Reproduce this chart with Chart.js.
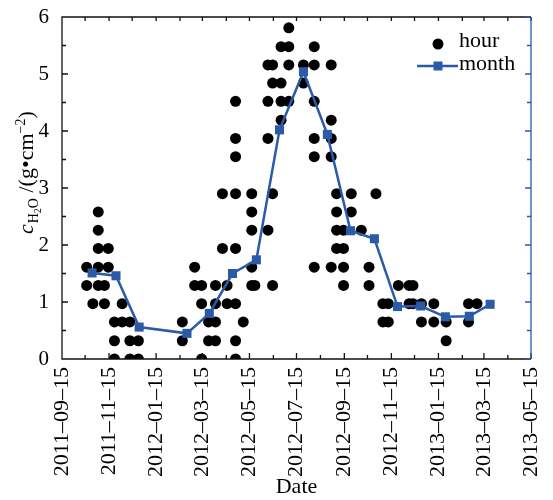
<!DOCTYPE html>
<html>
<head>
<meta charset="utf-8">
<script src="https://cdn.jsdelivr.net/npm/chart.js@4.4.1/dist/chart.umd.min.js"></script>
<style>
html, body { margin: 0; padding: 0; background: #fff; }
</style>
</head>
<body>
<canvas id="chart" width="553" height="500"></canvas>
<script>
// axis range and tick labels
var startDate = '2011-09-15';
var endDate = '2013-05-15';
var xTickLabels = ['2011-09-15', '2011-11-15', '2012-01-15', '2012-03-15', '2012-05-15', '2012-07-15',
                   '2012-09-15', '2012-11-15', '2013-01-15', '2013-03-15', '2013-05-15'];
var yTicks = [0, 1, 2, 3, 4, 5, 6];

// hourly values, grouped by observation day
var hourDates = ['2011-10-17', '2011-10-25', '2011-11-01', '2011-11-09', '2011-11-14', '2011-11-22',
                 '2011-12-02', '2011-12-12', '2011-12-23', '2012-02-18', '2012-03-05', '2012-03-14',
                 '2012-03-23', '2012-04-01', '2012-04-10', '2012-04-16', '2012-04-27', '2012-05-07',
                 '2012-05-18', '2012-05-22', '2012-06-08', '2012-06-14', '2012-06-25', '2012-07-05',
                 '2012-07-24', '2012-08-07', '2012-08-29', '2012-09-05', '2012-09-14', '2012-09-24',
                 '2012-10-07', '2012-10-17', '2012-10-26', '2012-11-04', '2012-11-11', '2012-11-24',
                 '2012-12-08', '2012-12-13', '2012-12-24', '2013-01-09', '2013-01-25', '2013-02-23',
                 '2013-03-06'];
var hourValues = [
  [1.61, 1.29], [0.97], [2.58, 2.26, 1.94, 1.61, 1.29], [1.29, 0.97], [1.94, 1.61], [0.65, 0.32, 0],
  [0.97, 0.65], [0.65, 0.32, 0], [0.32, 0], [0.65, 0.32], [1.61, 1.29], [1.29, 0.97, 0],
  [0.65, 0.32], [1.29, 0.97, 0.65, 0.32], [2.90, 1.94], [1.29, 0.97],
  [4.52, 3.87, 3.55, 2.90, 1.94, 0.97, 0.32, 0], [0.65],
  [2.90, 2.58, 2.26, 1.61, 1.29], [1.29], [5.16, 4.52, 3.87, 2.26], [5.16, 4.84, 2.90, 1.29],
  [5.48, 4.84, 4.52, 4.19], [5.81, 5.48, 5.16, 4.52],
  [5.16, 4.84], [5.48, 5.16, 4.52, 3.87, 3.55, 1.61], [5.16, 4.19, 3.87, 3.55, 1.61],
  [2.90, 2.58, 2.26, 1.94], [2.26, 1.94, 1.61, 1.29], [2.90, 2.58],
  [2.26], [1.61, 1.29], [2.90], [0.97, 0.65], [0.97, 0.65], [1.29],
  [1.29, 0.97], [1.29, 0.97], [0.97, 0.65], [0.97, 0.65], [0.65, 0.32], [0.97, 0.65],
  [0.97]
];

// monthly means
var monthDates = ['2011-10-24', '2011-11-24', '2011-12-24', '2012-02-24', '2012-03-24', '2012-04-23',
                  '2012-05-24', '2012-06-23', '2012-07-24', '2012-08-24', '2012-09-23', '2012-10-24',
                  '2012-11-23', '2012-12-23', '2013-01-24', '2013-02-24', '2013-03-23'];
var monthValues = [1.51, 1.46, 0.56, 0.45, 0.80, 1.50, 1.74, 4.02, 5.04, 3.94, 2.25, 2.11,
                   0.92, 0.93, 0.74, 0.75, 0.96];

var blue = '#2b5ba8';
var serif = '"Liberation Serif", "Times New Roman", serif';

function toUTC(s) {
  var p = s.split('-');
  return Date.UTC(+p[0], +p[1] - 1, +p[2]);
}
function dayOf(s) {
  return (toUTC(s) - toUTC(startDate)) / 86400000;
}

var hourPoints = [];
for (var i = 0; i < hourDates.length; i++) {
  for (var j = 0; j < hourValues[i].length; j++) {
    hourPoints.push({ x: dayOf(hourDates[i]), y: hourValues[i][j] });
  }
}
var monthPoints = monthDates.map(function (d, i) { return { x: dayOf(d), y: monthValues[i] }; });

// every 15th of the month between start and end: minor ticks, every second one labelled
function monthTickDays() {
  var out = [];
  var s = toUTC(startDate), e = toUTC(endDate);
  var d0 = new Date(s);
  for (var m = 0; ; m++) {
    var t = Date.UTC(d0.getUTCFullYear(), d0.getUTCMonth() + m, 15);
    if (t > e) break;
    out.push((t - s) / 86400000);
  }
  return out;
}

// no extra room for overflowing tick labels, the layout padding does it
function noOverflow(scale) {
  scale.paddingLeft = 0; scale.paddingRight = 0;
  scale.paddingTop = 0; scale.paddingBottom = 0;
}

var framePlugin = {
  id: 'frame',
  afterDatasetsDraw: function (chart) {
    var ctx = chart.ctx, a = chart.chartArea, xs = chart.scales.x, ys = chart.scales.y;
    var days = monthTickDays();
    ctx.save();
    ctx.lineWidth = 1.3;
    ctx.strokeStyle = '#111';
    ctx.beginPath();
    days.forEach(function (d, k) {
      var px = xs.getPixelForValue(d);
      var len = k % 2 ? 4 : 6;
      ctx.moveTo(px, a.bottom); ctx.lineTo(px, a.bottom - len);
      ctx.moveTo(px, a.top); ctx.lineTo(px, a.top + 4);
    });
    for (var v = 0; v <= 6; v += 0.5) {
      var py = ys.getPixelForValue(v);
      ctx.moveTo(a.left, py); ctx.lineTo(a.left + (v % 1 ? 4 : 6), py);
    }
    ctx.moveTo(a.right, a.top); ctx.lineTo(a.left, a.top);
    ctx.lineTo(a.left, a.bottom); ctx.lineTo(a.right, a.bottom);
    ctx.stroke();
    ctx.strokeStyle = blue;
    ctx.beginPath();
    for (var w = 0; w <= 6; w += 0.5) {
      var qy = ys.getPixelForValue(w);
      ctx.moveTo(a.right, qy); ctx.lineTo(a.right - (w % 1 ? 4 : 6), qy);
    }
    ctx.moveTo(a.right, a.top); ctx.lineTo(a.right, a.bottom);
    ctx.stroke();
    ctx.restore();
  }
};

var labelPlugin = {
  id: 'labels',
  afterDraw: function (chart) {
    var ctx = chart.ctx, a = chart.chartArea;
    var ds = chart.data.datasets;
    ctx.save();
    // legend
    ctx.fillStyle = '#000';
    ctx.beginPath();
    ctx.arc(a.right - 93, a.top + 27, 5.5, 0, Math.PI * 2);
    ctx.fill();
    ctx.strokeStyle = blue;
    ctx.lineWidth = 2.5;
    ctx.beginPath();
    ctx.moveTo(a.right - 114, a.top + 49); ctx.lineTo(a.right - 73, a.top + 49);
    ctx.stroke();
    ctx.fillStyle = blue;
    ctx.fillRect(a.right - 97.5, a.top + 44.5, 9, 9);
    ctx.fillStyle = '#000';
    ctx.font = '22px ' + serif;
    ctx.textBaseline = 'alphabetic';
    ctx.textAlign = 'left';
    ctx.fillText(ds[1].label, a.right - 72, a.top + 30);
    ctx.fillText(ds[0].label, a.right - 72, a.top + 53);

    // y-axis title with sub/superscripts
    ctx.translate(33, 234);
    ctx.rotate(-Math.PI / 2);
    var x = 0;
    function put(txt, font, dy) {
      ctx.font = font;
      ctx.fillText(txt, x, dy);
      x += ctx.measureText(txt).width;
    }
    put('c', 'italic 22px ' + serif, 0);
    x += 1;
    put('H', '14px ' + serif, 5);
    put('2', '10px ' + serif, 8);
    put('O', '14px ' + serif, 5);
    put(' /(g\u2022cm', '22px ' + serif, 0);
    put('\u22122', '14px ' + serif, -8);
    put(')', '22px ' + serif, 0);
    ctx.restore();
  }
};

new Chart(document.getElementById('chart'), {
  type: 'scatter',
  data: {
    datasets: [
      {
        label: 'month',
        data: monthPoints,
        showLine: true,
        borderColor: blue,
        backgroundColor: blue,
        borderWidth: 2.5,
        pointStyle: 'rect',
        pointRadius: 6.4,
        pointBorderWidth: 0,
        order: 1
      },
      {
        label: 'hour',
        data: hourPoints,
        backgroundColor: '#000',
        borderColor: '#000',
        pointRadius: 5.5,
        pointBorderWidth: 0,
        order: 2
      }
    ]
  },
  options: {
    responsive: false,
    animation: false,
    events: [],
    layout: { padding: { left: 0, top: 17, right: 22, bottom: 0 } },
    plugins: { legend: { display: false }, tooltip: { enabled: false } },
    scales: {
      x: {
        type: 'linear',
        min: 0,
        max: dayOf(endDate),
        grid: { display: false, drawTicks: false },
        border: { display: false },
        afterBuildTicks: function (scale) {
          scale.ticks = xTickLabels.map(function (s) { return { value: dayOf(s) }; });
        },
        afterFit: function (scale) { scale.height = 141; noOverflow(scale); },
        ticks: {
          autoSkip: false,
          minRotation: 90,
          maxRotation: 90,
          padding: 8,
          color: '#000',
          font: { family: serif, size: 22 },
          callback: function (value, index) { return xTickLabels[index].replace(/-/g, '\u2013'); }
        },
        title: {
          display: true,
          text: 'Date',
          color: '#000',
          font: { family: serif, size: 22 },
          padding: { top: 0, bottom: 0 }
        }
      },
      y: {
        min: 0,
        max: 6,
        grid: { display: false, drawTicks: false },
        border: { display: false },
        afterBuildTicks: function (scale) {
          scale.ticks = yTicks.map(function (v) { return { value: v }; });
        },
        afterFit: function (scale) { scale.width = 62; noOverflow(scale); },
        ticks: {
          padding: 13,
          color: '#000',
          font: { family: serif, size: 21 }
        }
      }
    }
  },
  plugins: [framePlugin, labelPlugin]
});
</script>
</body>
</html>
